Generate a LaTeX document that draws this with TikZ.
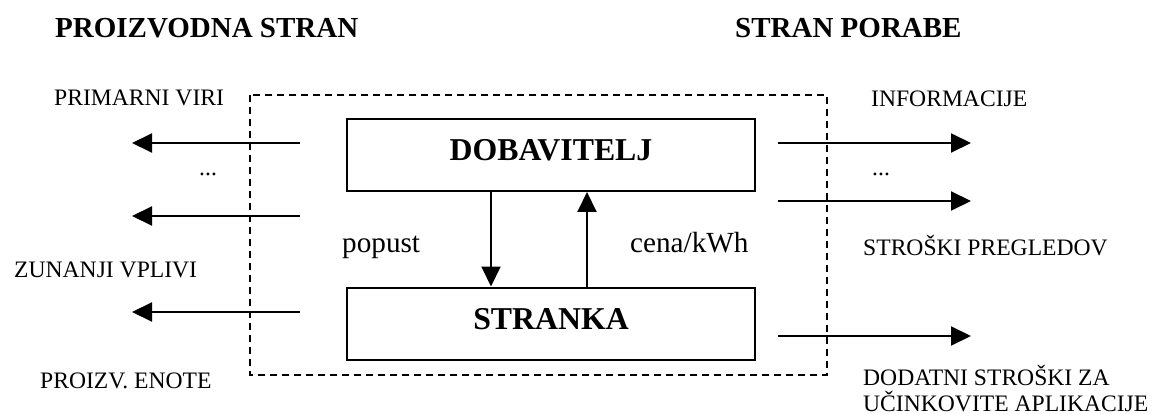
\documentclass[tikz,border=0pt]{standalone}
\usepackage{fontspec}
\setmainfont{Liberation Serif}
\usetikzlibrary{arrows.meta}
\begin{document}
\begin{tikzpicture}[x=1pt,y=-1pt,
  lbl/.style={anchor=base west,inner sep=0pt,font=\fontsize{23.6}{28}\selectfont},
  head/.style={anchor=base west,inner sep=0pt,font=\fontsize{29}{34}\selectfont\bfseries},
  flow/.style={anchor=base west,inner sep=0pt,font=\fontsize{29.2}{34}\selectfont},
  party/.style={draw,line width=2pt,minimum width=408pt,minimum height=72pt,inner sep=0pt,
    text height=21pt,text depth=9.5pt,font=\fontsize{31.8}{36}\selectfont\bfseries},
  arr/.style={line width=2pt,-{Triangle[length=20pt,width=19pt]}},
  border/.style={line width=1.6pt,dash pattern=on 7pt off 5pt}]

  % page area
  \useasboundingbox (0,0) rectangle (1154,414);

  % side headings
  \node[head] (hl) at (55,38) {PROIZVODNA STRAN};
  \node[head] (hr) at (735,38) {STRAN PORABE};

  % market boundary
  \draw[border] (250,95) rectangle (827,375);

  % the two parties
  \node[party] (dob) at (551,155) {DOBAVITELJ};
  \node[party] (str) at (551,323.5) {STRANKA};

  % exchange between supplier and customer
  \coordinate (xdown) at (491,0);
  \coordinate (xup) at (587,0);
  \draw[arr] (dob.south -| xdown) -- (str.north -| xdown);
  \draw[arr] (str.north -| xup) -- (dob.south -| xup);
  \node[flow] (pop) at (342,253) {popust};
  \node[flow] (cena) at (630,252) {cena/kWh};

  % production side
  \coordinate (ls1) at (300,143); \coordinate (le1) at (132,143);
  \coordinate (ls2) at (300,216); \coordinate (le2) at (132,216);
  \coordinate (ls3) at (300,312); \coordinate (le3) at (132,312);
  \draw[arr] (ls1) -- (le1);
  \draw[arr] (ls2) -- (le2);
  \draw[arr] (ls3) -- (le3);
  \node[lbl] (t1) at (54,106) {PRIMARNI VIRI};
  \node[lbl] (t2) at (199,176) {...};
  \node[lbl] (t3) at (14,277) {ZUNANJI VPLIVI};
  \node[lbl] (t4) at (40,388) {PROIZV. ENOTE};

  % consumption side
  \coordinate (rs1) at (778,143); \coordinate (re1) at (971,143);
  \coordinate (rs2) at (778,201); \coordinate (re2) at (971,201);
  \coordinate (rs3) at (778,336); \coordinate (re3) at (971,336);
  \draw[arr] (rs1) -- (re1);
  \draw[arr] (rs2) -- (re2);
  \draw[arr] (rs3) -- (re3);
  \node[lbl] (r1) at (871,107) {INFORMACIJE};
  \node[lbl] (r2) at (872,176) {...};
  \node[lbl] (r3) at (863,255) {STROŠKI PREGLEDOV};
  \node[lbl] (r4) at (863,385) {DODATNI STROŠKI ZA};
  \node[lbl] (r5) at (863,411) {UČINKOVITE APLIKACIJE};
\end{tikzpicture}
\end{document}
